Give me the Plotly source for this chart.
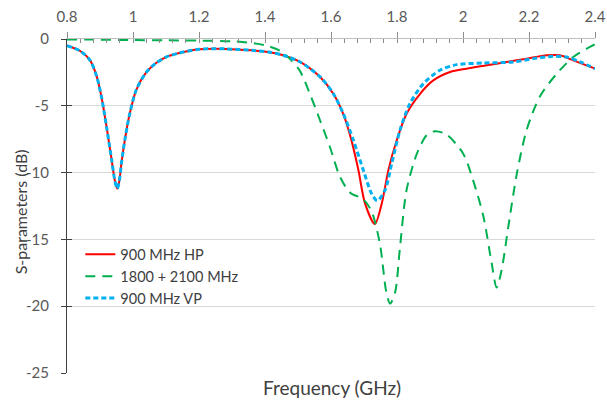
import plotly.graph_objects as go

# ---- data ----
freq_hp = [0.80, 0.84, 0.87, 0.89, 0.905, 0.92, 0.935, 0.945, 0.952, 0.958, 0.965, 0.975,
           0.99, 1.01, 1.04, 1.07, 1.10, 1.14, 1.20, 1.28, 1.36, 1.41, 1.455, 1.505,
           1.567, 1.607, 1.637, 1.66, 1.683, 1.703, 1.733, 1.754, 1.774, 1.799, 1.829,
           1.870, 1.910, 1.961, 2.011, 2.072, 2.132, 2.193, 2.254, 2.294, 2.334, 2.40]
s_hp = [-0.5, -0.9, -1.6, -2.8, -4.4, -6.6, -9.0, -10.6, -11.2, -10.7, -9.3, -7.6,
        -5.6, -3.8, -2.5, -1.8, -1.35, -1.05, -0.77, -0.74, -0.85, -0.98, -1.22, -1.7,
        -2.85, -4.1, -5.6, -7.4, -9.8, -12.3, -13.85, -12.3, -9.8, -7.6, -5.6,
        -4.1, -3.1, -2.47, -2.22, -1.97, -1.72, -1.47, -1.22, -1.22, -1.6, -2.22]

freq_dual = [0.80, 0.90, 1.00, 1.10, 1.20, 1.30, 1.355, 1.405, 1.445, 1.476, 1.506, 1.536,
             1.567, 1.597, 1.627, 1.658, 1.698, 1.723, 1.748, 1.768, 1.779, 1.794, 1.809,
             1.829, 1.860, 1.890, 1.915, 1.950, 2.001, 2.031, 2.062, 2.087, 2.102, 2.117,
             2.137, 2.163, 2.193, 2.233, 2.284, 2.334, 2.375, 2.40]
s_dual = [-0.03, -0.05, -0.08, -0.10, -0.12, -0.17, -0.28, -0.5, -0.88, -1.5, -2.4, -4.1,
          -6.1, -8.1, -10.3, -11.5, -12.0, -12.9, -15.3, -19.0, -19.8, -19.0, -15.6,
          -11.3, -8.6, -7.2, -6.9, -7.15, -8.6, -10.6, -13.3, -16.8, -18.6, -17.3,
          -14.1, -10.1, -6.8, -4.3, -2.6, -1.35, -0.72, -0.4]

freq_vp = [0.80, 0.84, 0.87, 0.89, 0.905, 0.92, 0.935, 0.945, 0.952, 0.958, 0.965, 0.975,
           0.99, 1.01, 1.04, 1.07, 1.10, 1.14, 1.20, 1.28, 1.36, 1.41, 1.455, 1.505,
           1.567, 1.607, 1.637, 1.668, 1.698, 1.723, 1.740, 1.764, 1.784, 1.809, 1.839,
           1.880, 1.930, 1.981, 2.062, 2.153, 2.213, 2.274, 2.314, 2.355, 2.40]
s_vp = [-0.5, -0.9, -1.6, -2.8, -4.4, -6.6, -9.0, -10.6, -11.2, -10.7, -9.3, -7.6,
        -5.6, -3.8, -2.5, -1.8, -1.35, -1.05, -0.77, -0.74, -0.85, -0.98, -1.22, -1.7,
        -2.84, -4.09, -5.58, -7.58, -9.83, -11.57, -12.1, -11.3, -9.33, -6.83, -4.84,
        -3.34, -2.34, -1.92, -1.80, -1.72, -1.47, -1.29, -1.35, -1.72, -2.22]

x_ticks = [0.8, 1.0, 1.2, 1.4, 1.6, 1.8, 2.0, 2.2, 2.4]
x_ticklabels = ["0.8", "1", "1.2", "1.4", "1.6", "1.8", "2", "2.2", "2.4"]
y_ticks = [0, -5, -10, -15, -20, -25]
y_ticklabels = ["0", "-5", "-10", "-15", "-20", "-25"]

FONT = "Lato"
TXT = "#404040"

fig = go.Figure()
fig.add_trace(go.Scatter(x=freq_hp, y=s_hp, name="900 MHz HP", mode="lines",
                         line=dict(color="#ff0000", width=2, shape="spline", smoothing=0.8)))
fig.add_trace(go.Scatter(x=freq_dual, y=s_dual, name="1800 + 2100 MHz", mode="lines",
                         line=dict(color="#00b050", width=2, dash="10px,7px", shape="spline", smoothing=0.8)))
fig.add_trace(go.Scatter(x=freq_vp, y=s_vp, name="900 MHz VP", mode="lines",
                         line=dict(color="#00b0f0", width=3, dash="5px,3px", shape="spline", smoothing=0.8)))
# helper trace for the overlaid tick axes
fig.add_trace(go.Scatter(x=[None], y=[None], xaxis="x2", yaxis="y2", showlegend=False,
                         hoverinfo="skip", mode="lines"))

fig.update_layout(
    width=607, height=400,
    margin=dict(l=67, r=12, t=39, b=27),
    paper_bgcolor="white", plot_bgcolor="white",
    font=dict(family=FONT, color=TXT),
    showlegend=True,
    legend=dict(x=0.0252, y=0.403, xanchor="left", yanchor="top",
                bgcolor="rgba(0,0,0,0)", font=dict(size=14.5, color=TXT),
                itemwidth=30, tracegroupgap=0),
    xaxis=dict(range=[0.8, 2.4], side="top", tickvals=x_ticks, ticktext=x_ticklabels,
               ticks="outside", ticklen=6, tickcolor="#8c8c8c", showline=True,
               linecolor="#bfbfbf", linewidth=1, showgrid=False, zeroline=False,
               tickfont=dict(size=15, color="#595959"), ticklabelstandoff=4,
               automargin=False),
    yaxis=dict(range=[-25, 0], tickvals=y_ticks, ticktext=y_ticklabels,
               ticks="outside", ticklen=5, tickcolor="#404040", showline=True,
               linecolor="#404040", linewidth=1, showgrid=True, gridcolor="#d9d9d9",
               zeroline=False, tickfont=dict(size=15, color="#595959"), ticklabelstandoff=9,
               automargin=False),
    xaxis2=dict(range=[0.8, 2.4], overlaying="x", side="top", anchor="y",
                tick0=0.8, dtick=0.04, ticks="inside", ticklen=4, tickcolor="#8c8c8c",
                showticklabels=False, showline=False, showgrid=False, zeroline=False,
                automargin=False),
    yaxis2=dict(range=[-25, 0], overlaying="y", side="left", anchor="x",
                tick0=0, dtick=5, ticks="inside", ticklen=5, tickcolor="#404040",
                showticklabels=False, showline=False, showgrid=False, zeroline=False,
                automargin=False),
    annotations=[
        dict(text="Frequency (GHz)", xref="paper", yref="paper", x=0.502, y=-0.043,
             xanchor="center", yanchor="middle", showarrow=False,
             font=dict(size=19, color=TXT)),
        dict(text="S-parameters (dB)", xref="paper", yref="paper", x=-0.089, y=0.481,
             xanchor="center", yanchor="middle", textangle=-90, showarrow=False,
             font=dict(size=16, color=TXT)),
    ],
)

fig.write_html("out.html")
